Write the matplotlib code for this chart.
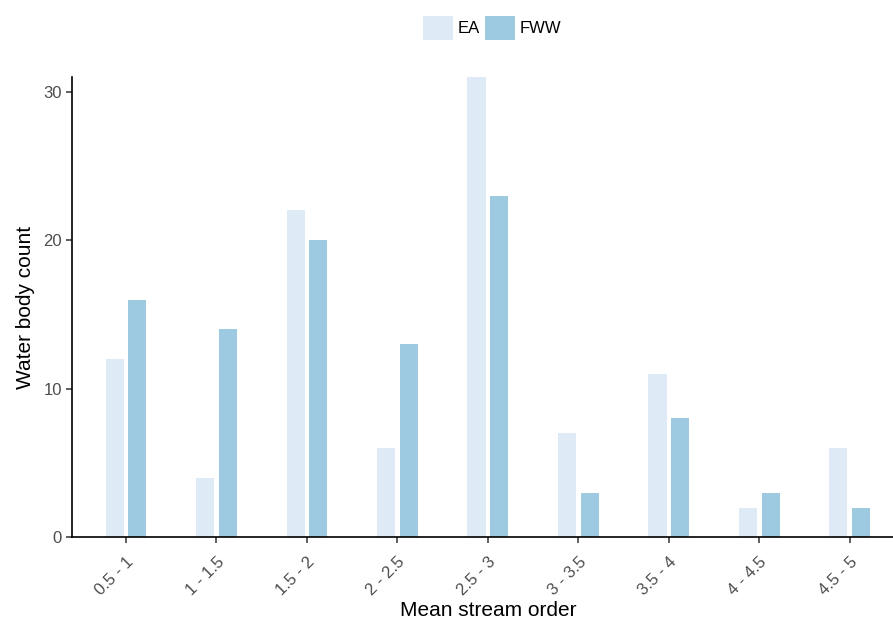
import numpy as np
import matplotlib
matplotlib.use('Agg')
import matplotlib.pyplot as plt
import matplotlib.transforms as mtransforms
from matplotlib.patches import Patch

# ------------------------------------------------------------------
# Data
categories = ['0.5 - 1', '1 - 1.5', '1.5 - 2', '2 - 2.5', '2.5 - 3',
              '3 - 3.5', '3.5 - 4', '4 - 4.5', '4.5 - 5']
ea_counts = [12, 4, 22, 6, 31, 7, 11, 2, 6]
fww_counts = [16, 14, 20, 13, 23, 3, 8, 3, 2]
series_names = ['EA', 'FWW']
y_ticks = [0, 10, 20, 30]
# ------------------------------------------------------------------

plt.rcParams['font.family'] = ['Liberation Sans', 'DejaVu Sans']

col_ea = '#deebf7'
col_fww = '#9ecae1'
txt_grey = '#4d4d4d'

fig = plt.figure(figsize=(8.93, 6.21), dpi=100)
ax = fig.add_axes([0.0803, 0.1348, 0.932, 0.7417])

x = np.arange(len(categories))
bar_w = 0.2
off = 0.125
ax.bar(x - off, ea_counts, width=bar_w, color=col_ea, label=series_names[0])
ax.bar(x + off, fww_counts, width=bar_w, color=col_fww, label=series_names[1])

ax.set_xlim(-0.6, len(categories) - 0.4)
ax.set_ylim(0, 31)
ax.set_xticks(x)
ax.set_xticklabels(categories, rotation=45, ha='right', va='top',
                   rotation_mode='anchor', fontsize=12, color=txt_grey)
ax.set_yticks(y_ticks)
ax.set_yticklabels([str(v) for v in y_ticks], fontsize=12, color=txt_grey)

# Shift x tick labels a little to the right (ggplot-like placement)
dx = mtransforms.ScaledTranslation(4 / 100, 0, fig.dpi_scale_trans)
for lbl in ax.get_xticklabels():
    lbl.set_transform(lbl.get_transform() + dx)

for side in ['top', 'right']:
    ax.spines[side].set_visible(False)
for side in ['left', 'bottom']:
    ax.spines[side].set_linewidth(1.2)
    ax.spines[side].set_color('black')
ax.tick_params(axis='both', length=4, width=1.1, color='#333333', pad=3)
ax.tick_params(axis='x', pad=8)

ax.set_xlabel('Mean stream order', fontsize=15, labelpad=2)
ax.set_ylabel('Water body count', fontsize=15, labelpad=6)

# Legend on top
handles = [Patch(facecolor=col_ea, edgecolor='none'),
           Patch(facecolor=col_fww, edgecolor='none')]
fig.legend(handles, series_names, loc='center', bbox_to_anchor=(0.551, 0.955),
           ncol=2, frameon=False, fontsize=12, handlelength=1.8, handleheight=1.8,
           handletextpad=0.3, columnspacing=0.3, borderpad=0)

fig.savefig('out.png', dpi=100)
